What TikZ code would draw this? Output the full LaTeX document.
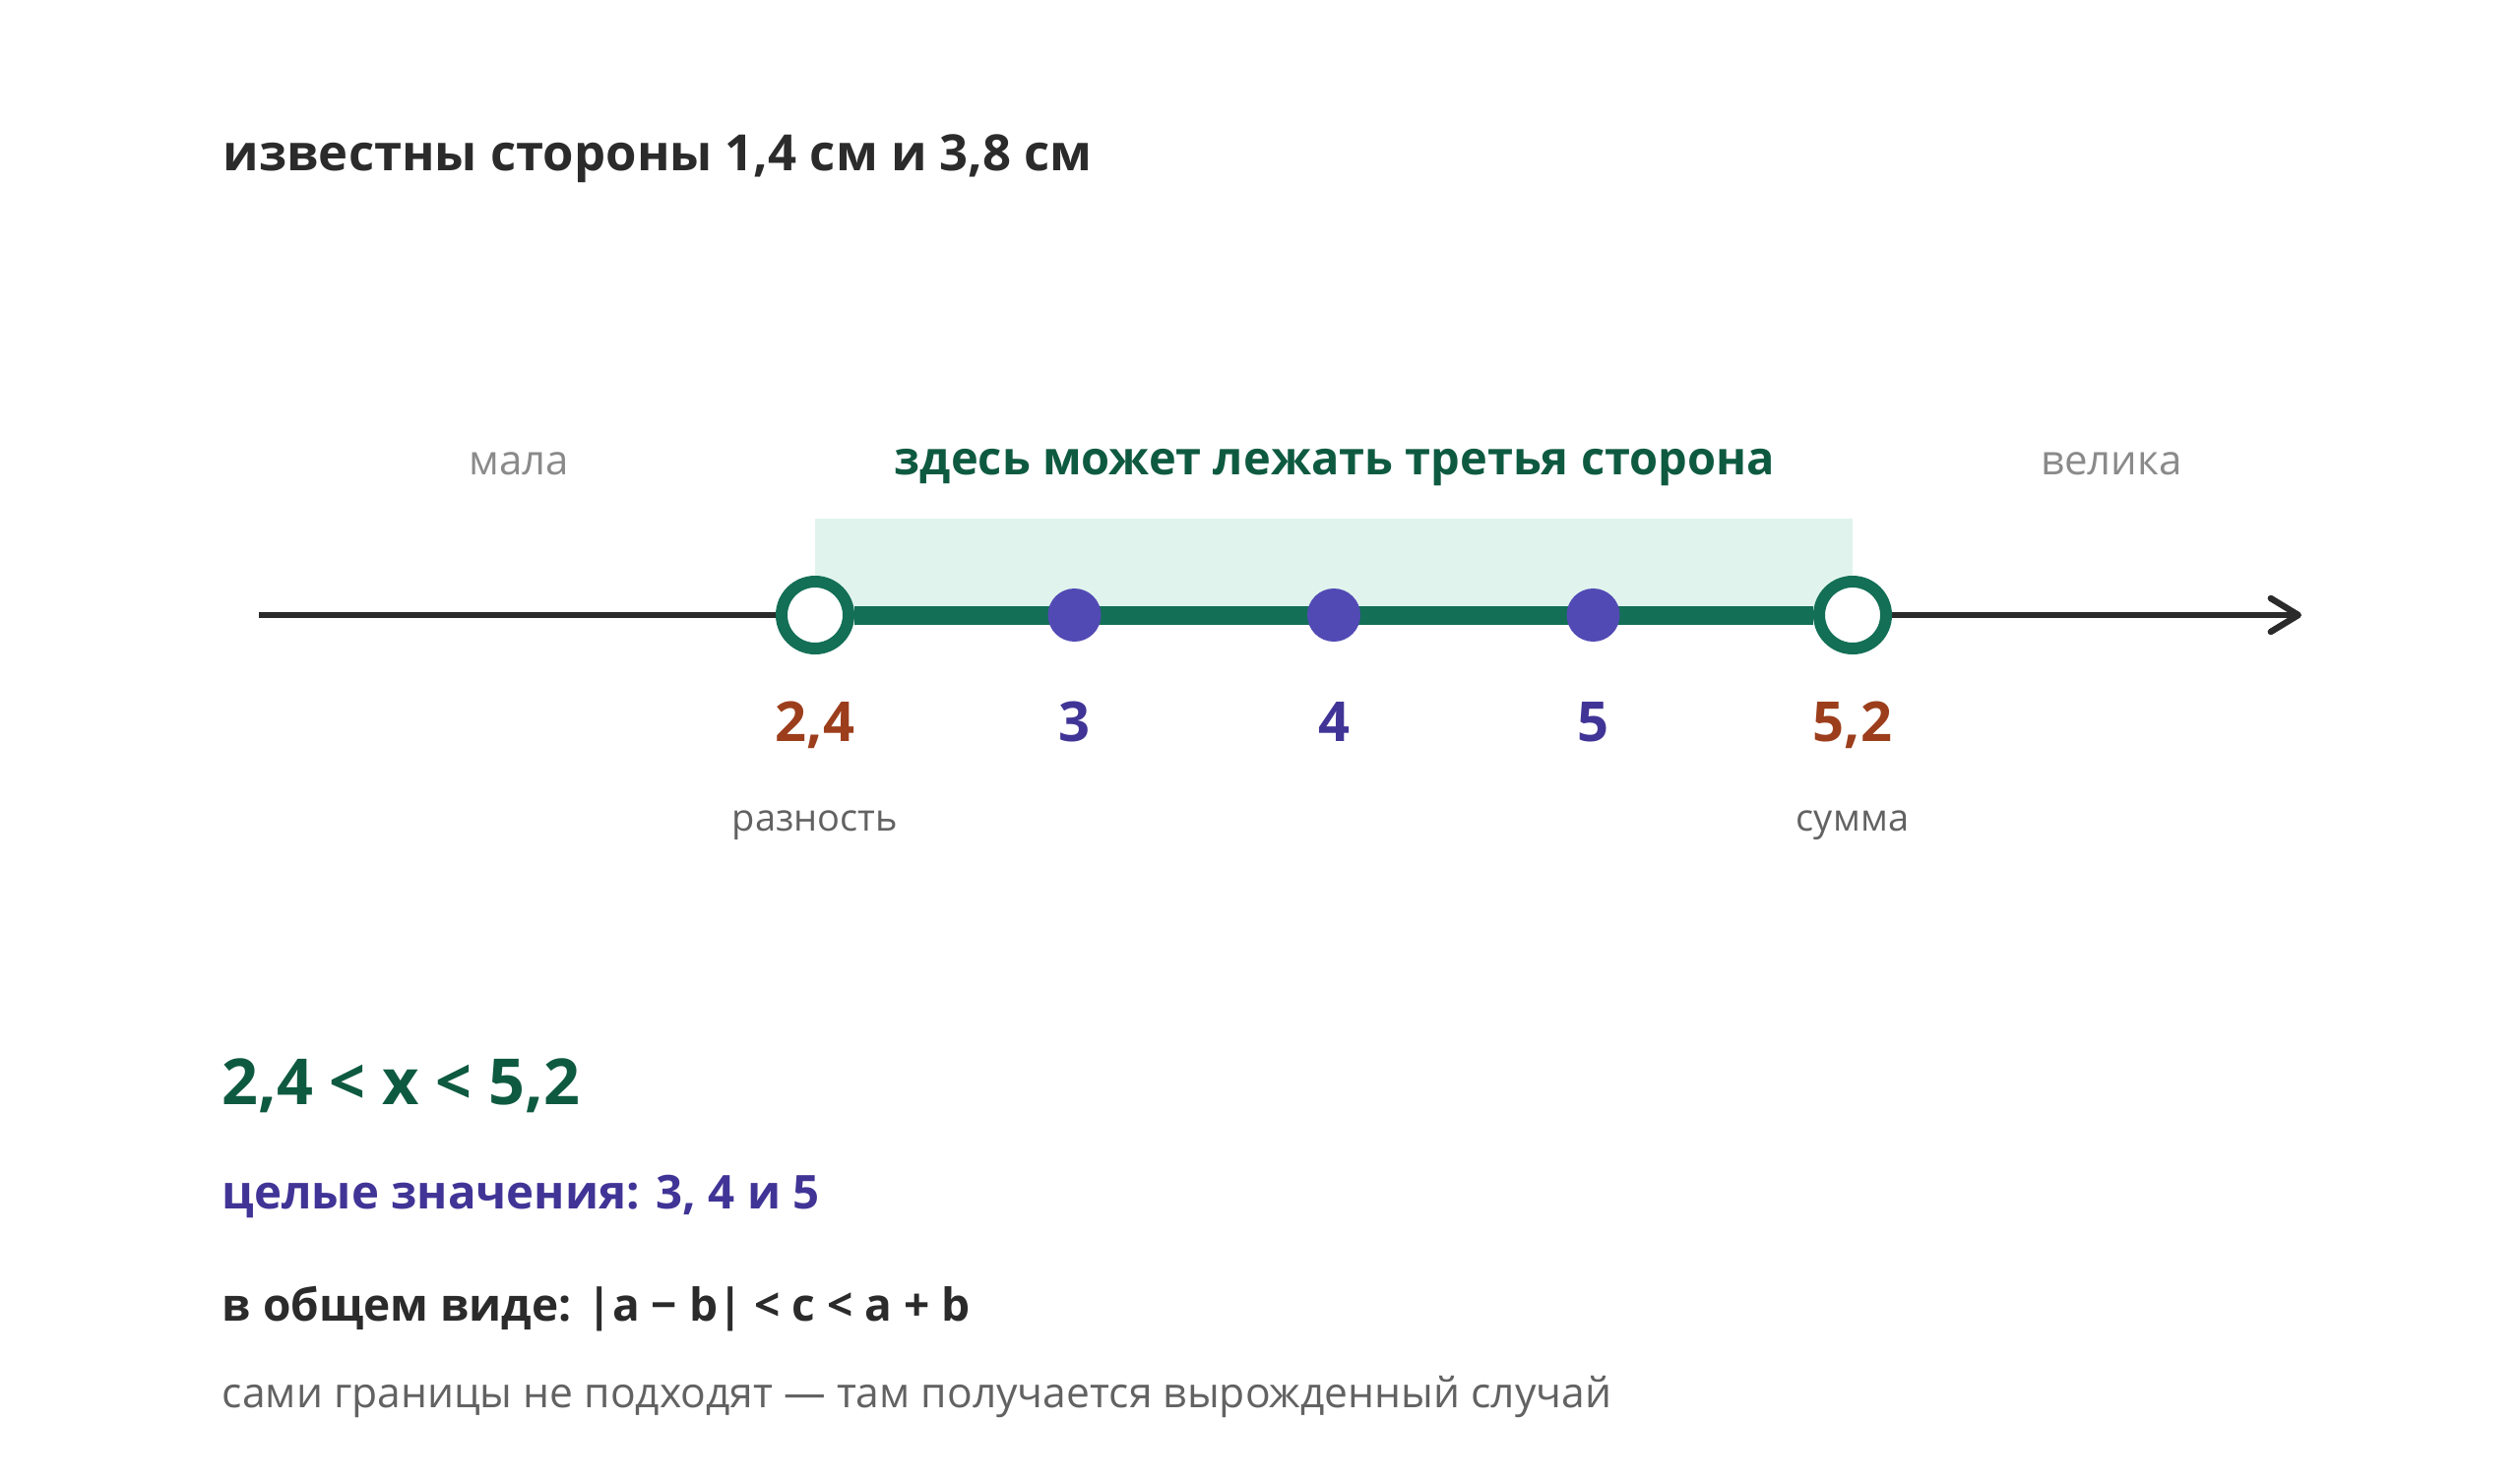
\documentclass[tikz,border=0pt]{standalone}
\usepackage{fontspec}
\setmainfont{Open Sans}
\usetikzlibrary{arrows.meta}

\definecolor{axisdark}{RGB}{43,43,43}
\definecolor{bargreen}{RGB}{19,111,86}
\definecolor{textgreen}{RGB}{14,90,64}
\definecolor{bandfill}{RGB}{224,244,237}
\definecolor{dotblue}{RGB}{82,74,180}
\definecolor{indigotext}{RGB}{64,52,150}
\definecolor{rusttext}{RGB}{156,62,28}
\definecolor{lightgray}{RGB}{138,138,138}
\definecolor{midgray}{RGB}{98,98,98}

\tikzset{every picture/.style={line width=0.75pt}}
\tikzset{
  axisline/.style={color=axisdark, line width=3.2pt, -{Straight Barb[round,length=14pt,width=17pt]}},
  segbar/.style={color=bargreen, line width=9.5pt},
  opendot/.style={circle, draw=bargreen, fill=white, line width=6pt, minimum size=34pt, inner sep=0pt},
  fulldot/.style={circle, fill=dotblue, minimum size=27pt, inner sep=0pt},
  endlabel/.style={anchor=base, text=rusttext, font=\fontsize{28}{34}\selectfont\bfseries},
  intlabel/.style={anchor=base, text=indigotext, font=\fontsize{28}{34}\selectfont\bfseries},
  sidenote/.style={anchor=base, text=midgray, font=\fontsize{19}{24}\selectfont},
  zonenote/.style={anchor=base, text=lightgray, font=\fontsize{21}{26}\selectfont}
}

\begin{document}
\begin{tikzpicture}[x=0.5pt,y=0.5pt,yscale=-1,xscale=1]
        \useasboundingbox (0,0) rectangle (2560,1506);
        \fill[white] (0,0) rectangle (2560,1506);

        % Text Node
        \node[anchor=base west, inner sep=0pt, text=axisdark, font=\fontsize{25.4}{30}\selectfont\bfseries] (title) at (226,173) {известны стороны 1,4 см и 3,8 см};

        %Shape: Rectangle
        \fill[bandfill] (828,527) rectangle (1882,625);
        %Straight Lines
        \coordinate (axstart) at (263,625);
        \coordinate (axend) at (2338,625);
        \draw[axisline] (axstart) -- (axend);

        % end points and the bar
        \node[opendot] (lo) at (828,625) {};
        \node[opendot] (hi) at (1882,625) {};
        \draw[segbar] (lo) -- (hi);
        \foreach \x/\n in {1091.5/3,1355/4,1618.5/5}
            \node[fulldot] (d\n) at (\x,625) {};

        % Text Node
        \node[anchor=base, text=textgreen, font=\fontsize{23.5}{28}\selectfont\bfseries] (zone) at (1356,482) {здесь может лежать третья сторона};
        \node[zonenote] (small) at (527,482) {мала};
        \node[zonenote] (big) at (2145,482) {велика};

        % Text Node
        \node[endlabel] (llo) at (828,753) {2,4};
        \node[endlabel] (lhi) at (1882,753) {5,2};
        \foreach \x/\n in {1091.5/3,1355/4,1618.5/5}
            \node[intlabel] (l\n) at (\x,753) {\n};
        \node[sidenote] (diff) at (828,844) {разность};
        \node[sidenote] (sum) at (1882,844) {сумма};

        % Text Node
        \node[anchor=base west, inner sep=0pt, text=textgreen, font=\fontsize{32.3}{38}\selectfont\bfseries] (ineq) at (225,1122) {2,4 < x < 5,2};
        \node[anchor=base west, inner sep=0pt, text=indigotext, font=\fontsize{23.7}{29}\selectfont\bfseries] (ints) at (225,1228) {целые значения: 3, 4 и 5};
        \node[anchor=base west, inner sep=0pt, text=axisdark, font=\fontsize{23}{28}\selectfont\bfseries] (gen) at (225,1342) {в общем виде: |a − b| < c < a + b};
        \node[anchor=base west, inner sep=0pt, text=midgray, font=\fontsize{21.3}{26}\selectfont] (note) at (225,1430) {сами границы не подходят — там получается вырожденный случай};

\end{tikzpicture}
\end{document}
